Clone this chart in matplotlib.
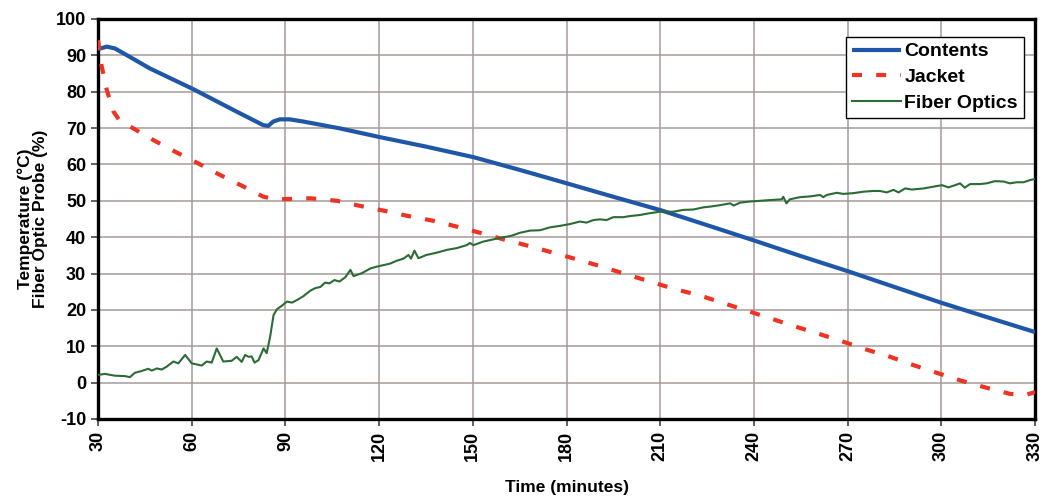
import matplotlib
matplotlib.use("Agg")
import matplotlib.pyplot as plt

plt.rcParams['font.family'] = ['Liberation Sans', 'DejaVu Sans']

# Contents (blue solid)
contents_t = [30, 32.8, 35.4, 39.1, 46.6, 60.5, 73.3, 82.9, 84.5, 86.1, 88.2, 91.4, 95.7,
              107.5, 120.3, 135, 150.2, 165, 180.1, 195, 210.2, 225, 240, 255, 270.2,
              285, 300.2, 315, 330]
contents_v = [91.7, 92.4, 91.9, 90.1, 86.4, 80.7, 75.0, 70.8, 70.6, 71.8, 72.4, 72.4, 71.8,
              69.9, 67.5, 64.9, 62.0, 58.5, 54.8, 51.1, 47.4, 43.3, 39.1, 34.8, 30.6,
              26.3, 21.9, 17.9, 13.9]

# Jacket (red dashed)
jacket_t = [30, 31.1, 32.8, 34.9, 36.8, 41.3, 47.7, 54.7, 61.6, 69.1, 76.6, 83, 87.2, 97.9, 106.5,
            113.9, 121.4, 129.4, 137.4, 144.9, 152.3, 159.8, 168.3, 175.8, 183.3, 191.3,
            198.7, 206.7, 214.7, 222.2, 229.7, 237.7, 245.2, 252.6, 260.1, 268.1, 275.6,
            283.6, 291.1, 298.5, 306.5, 314, 322, 327, 330]
jacket_v = [94.2, 87.3, 80.5, 74.6, 72.2, 69.9, 66.7, 63.5, 60.5, 57.1, 53.9, 51.1, 50.4, 50.7, 50.0,
            48.6, 47.3, 45.8, 44.5, 42.9, 41.2, 39.4, 37.5, 35.7, 33.9, 31.9,
            29.9, 27.8, 25.7, 24.1, 22.0, 19.8, 17.7, 15.6, 13.6, 11.4, 9.2,
            7.1, 4.8, 2.7, 0.5, -1.3, -3.1, -3.4, -2.6]

# Fiber Optics (green thin)
fiber_t = [30, 32.2, 35.4, 38.6, 40.2, 41.8, 44, 46.1, 47.2, 48.8, 50.4, 52, 54.1, 55.7,
           57.9, 60, 61.6, 63.2, 64.8, 66.4, 68, 70.1, 72.8, 74.4, 76, 77.1, 78.2, 79.2,
           80.1, 81.4, 83, 84, 85.1, 86.2, 87.3, 88.8, 90.5, 92.1, 93.7, 95.8, 98, 99.6,
           101.2, 102.7, 104.1, 105.7, 107.3, 109.2, 110.8, 111.8, 114.5, 117.2, 119.3,
           121.3, 123.4, 125.6, 127.8, 129.4, 130.2, 131.3, 132.6, 135.1, 138.3, 141.7,
           144.9, 148, 149.1, 150.2, 153.4, 156.6, 159.8, 162, 165.1, 168.3, 171.5, 174.7,
           177.9, 181.1, 184.3, 186.4, 188.6, 190.7, 192.8, 195, 198.2, 200.3, 203.5,
           206.7, 209.9, 214.2, 217.4, 220.6, 223.8, 226, 229.2, 232.4, 233.5, 235.6,
           238.8, 242, 245.2, 248.9, 249.4, 250.4, 251.5, 254.7, 257.9, 261.2, 262.2,
           263.3, 266.5, 268.6, 271.8, 275, 278.2, 280.4, 282.5, 284.7, 286.3, 288.4,
           290.6, 294.3, 297.5, 300.2, 302.3, 304.4, 306, 307.5, 309.2, 312.4, 314.5,
           317.2, 319.9, 322, 324.1, 326.3, 328.4, 330]
fiber_v = [2.1, 2.4, 1.9, 1.8, 1.5, 2.7, 3.2, 3.8, 3.3, 3.9, 3.6, 4.4, 5.8, 5.3,
           7.6, 5.3, 5.0, 4.7, 5.8, 5.5, 9.4, 5.8, 6.0, 7.1, 5.7, 7.6, 7.1, 7.2,
           5.5, 6.2, 9.4, 8.1, 12.6, 18.6, 20.2, 21.1, 22.3, 22.0, 22.7, 23.8, 25.3, 26.0,
           26.3, 27.5, 27.3, 28.2, 27.8, 29.0, 31.0, 29.3, 30.1, 31.4, 31.9,
           32.3, 32.7, 33.5, 34.1, 35.1, 34.1, 36.3, 34.2, 35.1, 35.7, 36.5,
           37.0, 37.8, 38.4, 37.8, 38.8, 39.4, 40.0, 40.3, 41.2, 41.8, 41.9, 42.7,
           43.1, 43.6, 44.3, 44.0, 44.7, 44.9, 44.7, 45.5, 45.5, 45.8, 46.1,
           46.6, 47.0, 47.0, 47.5, 47.6, 48.2, 48.4, 48.8, 49.3, 48.7, 49.5,
           49.8, 50.0, 50.2, 50.4, 51.1, 49.3, 50.4, 51.0, 51.2, 51.6, 51.0,
           51.6, 52.2, 51.9, 52.1, 52.5, 52.7, 52.7, 52.3, 53.0, 52.3, 53.4,
           53.1, 53.4, 53.9, 54.3, 53.7, 54.3, 54.8, 53.6, 54.6, 54.6, 54.8,
           55.4, 55.3, 54.8, 55.1, 55.1, 55.7, 56.0]

x_ticks = list(range(30, 331, 30))
y_ticks = list(range(-10, 101, 10))

fig = plt.figure(figsize=(10.44, 4.97), dpi=100)
ax = fig.add_axes([0.0939, 0.157, 0.8975, 0.8048])

grid_c = '#a89a9a'
ax.set_xlim(30, 330)
ax.set_ylim(-10, 100)
ax.set_xticks(x_ticks)
ax.set_yticks(y_ticks)
ax.grid(True, color=grid_c, linewidth=1.1)
ax.set_axisbelow(True)

ax.plot(contents_t, contents_v, color='#1f57a8', lw=3.0, label='Contents', solid_capstyle='butt', zorder=3)
ax.plot(jacket_t, jacket_v, color='#ee3322', lw=3.0, linestyle=(0, (2.4, 3.4)), label='Jacket', zorder=3)
ax.plot(fiber_t, fiber_v, color='#2b6b35', lw=1.5, label='Fiber Optics', zorder=3)

for s in ax.spines.values():
    s.set_linewidth(2.4)
    s.set_color('black')

ax.tick_params(axis='both', direction='out', length=5, width=1.2, color='#444444')
ax.set_xticklabels([str(v) for v in x_ticks], rotation=90, fontsize=13, fontweight='bold')
ax.set_yticklabels([str(v) for v in y_ticks], fontsize=13, fontweight='bold')

ax.set_xlabel('Time (minutes)', fontsize=12.5, fontweight='bold', labelpad=14)
ax.set_ylabel('Temperature (°C)\nFiber Optic Probe (%)', fontsize=12.5, fontweight='bold', labelpad=6, linespacing=1.0)

leg = ax.legend(loc='upper right', bbox_to_anchor=(0.988, 0.955),
                prop={'weight': 'bold', 'size': 14}, frameon=True, fancybox=False,
                edgecolor='black', borderpad=0.3, handlelength=2.5, handletextpad=0.2,
                labelspacing=0.42, borderaxespad=0.0, framealpha=1.0)
leg.get_frame().set_linewidth(1.0)

fig.savefig('out.png', dpi=100)
